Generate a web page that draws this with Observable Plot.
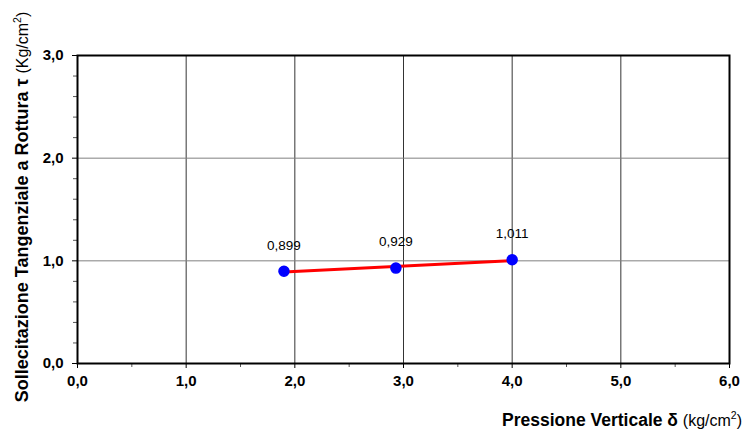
<!DOCTYPE html>
<html>
<head>
<meta charset="utf-8">
<script src="https://cdn.jsdelivr.net/npm/d3@7"></script>
<script src="https://cdn.jsdelivr.net/npm/@observablehq/plot@0.6"></script>
<style>
  html, body { margin: 0; padding: 0; background: #fff; }
  svg g.ticklab text, svg g.ticklab { font-size: 15px !important; font-weight: bold !important; }
</style>
</head>
<body>
<div id="chart"></div>
<script>
const pressure = [1.9, 2.93, 4.0];
const tau = [0.899, 0.929, 1.011];
const pointLabels = ["0,899", "0,929", "1,011"];
const xTicks = [0, 1, 2, 3, 4, 5, 6];
const yTicks = [0, 1, 2, 3];
const xMinorTicks = [0.5, 1.5, 2.5, 3.5, 4.5, 5.5];
const yMinorTicks = [0.2, 0.4, 0.6, 0.8, 1.2, 1.4, 1.6, 1.8, 2.2, 2.4, 2.6, 2.8];

const data = pressure.map((p, i) => ({x: p, y: tau[i], label: pointLabels[i]}));
const fmt = d => d.toFixed(1).replace(".", ",");
const font = "Liberation Sans, Arial, Helvetica, sans-serif";

const chart = Plot.plot({
  width: 743,
  height: 432,
  marginLeft: 77,
  marginRight: 14,
  marginTop: 55,
  marginBottom: 69,
  style: {fontFamily: font, background: "#fff", color: "#000"},
  x: {domain: [0, 6]},
  y: {domain: [0, 3]},
  marks: [
    Plot.gridX(xTicks, {stroke: "#000", strokeOpacity: 1, strokeWidth: 0.8}),
    Plot.gridY(yTicks, {stroke: "#808080", strokeOpacity: 1, strokeWidth: 1}),
    Plot.axisX({ticks: xMinorTicks, tickSize: 4, tickFormat: () => "", label: null, stroke: "#555"}),
    Plot.axisY({ticks: yMinorTicks, tickSize: 4, tickFormat: () => "", label: null, stroke: "#555"}),
    Plot.axisX({ticks: xTicks, tickSize: 5, tickPadding: 7, tickFormat: fmt, label: null,
                fontWeight: "bold", fontSize: 15, fill: "#000"}),
    Plot.axisY({ticks: yTicks, tickSize: 5, tickPadding: 9, tickFormat: fmt, label: null,
                fontWeight: "bold", fontSize: 15, fill: "#000"}),
    Plot.frame({stroke: "#000", strokeWidth: 2}),
    Plot.linearRegressionY(data, {x: "x", y: "y", stroke: "#ff0000", strokeWidth: 3, ci: 0}),
    Plot.dot(data, {x: "x", y: "y", r: 5, fill: "#0000ff", stroke: "#0000ff"}),
    Plot.text(data, {x: "x", y: "y", text: "label", dy: -26, fontSize: 13.5, fill: "#000"})
  ]
});

document.getElementById("chart").appendChild(chart);

const svg = d3.select(chart);
svg.selectAll("g").filter(function() {
  const a = this.getAttribute("aria-label") || "";
  return /tick label/.test(a);
}).classed("ticklab", true)
  .selectAll("text").style("font-size", "15px").style("font-weight", "bold");

// X axis title
const xt = svg.append("text")
  .attr("x", 742).attr("y", 426)
  .attr("text-anchor", "end")
  .attr("font-family", font)
  .attr("fill", "#000");
xt.append("tspan").attr("font-weight", "bold").attr("font-size", 17.5).text("Pressione Verticale δ ");
xt.append("tspan").attr("font-size", 16).text("(kg/cm");
xt.append("tspan").attr("font-size", 10.5).attr("dy", -7).text("2");
xt.append("tspan").attr("font-size", 16).attr("dy", 7).text(")");

// Y axis title
const yt = svg.append("text")
  .attr("transform", "translate(27.5,207) rotate(-90)")
  .attr("text-anchor", "middle")
  .attr("font-family", font)
  .attr("fill", "#000");
yt.append("tspan").attr("font-weight", "bold").attr("font-size", 18).text("Sollecitazione Tangenziale a Rottura τ ");
yt.append("tspan").attr("font-size", 16).text("(Kg/cm");
yt.append("tspan").attr("font-size", 10.5).attr("dy", -7).text("2");
yt.append("tspan").attr("font-size", 16).attr("dy", 7).text(")");
</script>
</body>
</html>
